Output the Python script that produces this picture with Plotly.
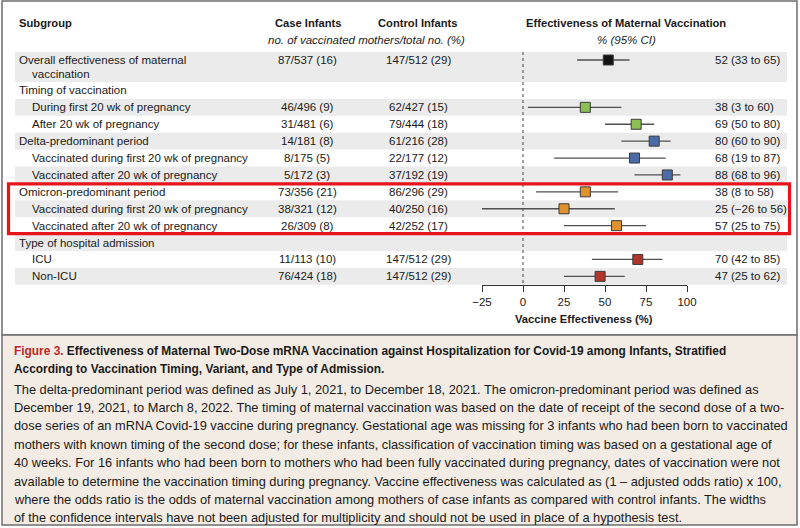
import plotly.graph_objects as go

W, H = 800, 528

# ---------------- data ----------------
subgroups = [
    "Overall effectiveness of maternal",
    "Timing of vaccination",
    "During first 20 wk of pregnancy",
    "After 20 wk of pregnancy",
    "Delta-predominant period",
    "Vaccinated during first 20 wk of pregnancy",
    "Vaccinated after 20 wk of pregnancy",
    "Omicron-predominant period",
    "Vaccinated during first 20 wk of pregnancy",
    "Vaccinated after 20 wk of pregnancy",
    "Type of hospital admission",
    "ICU",
    "Non-ICU",
]
indent = [0, 0, 1, 1, 0, 1, 1, 0, 1, 1, 0, 1, 1]
case_infants = ["87/537 (16)", "", "46/496 (9)", "31/481 (6)", "14/181 (8)", "8/175 (5)",
                "5/172 (3)", "73/356 (21)", "38/321 (12)", "26/309 (8)", "", "11/113 (10)",
                "76/424 (18)"]
control_infants = ["147/512 (29)", "", "62/427 (15)", "79/444 (18)", "61/216 (28)", "22/177 (12)",
                   "37/192 (19)", "86/296 (29)", "40/250 (16)", "42/252 (17)", "", "147/512 (29)",
                   "147/512 (29)"]
ve_text = ["52 (33 to 65)", "", "38 (3 to 60)", "69 (50 to 80)", "80 (60 to 90)", "68 (19 to 87)",
           "88 (68 to 96)", "38 (8 to 58)", "25 (\u221226 to 56)", "57 (25 to 75)", "", "70 (42 to 85)",
           "47 (25 to 62)"]
ve_est = [52, None, 38, 69, 80, 68, 88, 38, 25, 57, None, 70, 47]
ve_lo = [33, None, 3, 50, 60, 19, 68, 8, -26, 25, None, 42, 25]
ve_hi = [65, None, 60, 80, 90, 87, 96, 58, 56, 75, None, 85, 62]
groups = ["overall", None, "timing", "timing", "delta", "delta", "delta",
          "omicron", "omicron", "omicron", None, "admission", "admission"]
group_colors = {"overall": "#141414", "timing": "#8cbf55", "delta": "#4a6aa8",
                "omicron": "#e0922f", "admission": "#b0362b"}

tick_vals = [-25, 0, 25, 50, 75, 100]
tick_text = ["\u221225", "0", "25", "50", "75", "100"]

caption_title = ("<span style='color:#c0272d'>Figure 3.</span> Effectiveness of Maternal Two-Dose mRNA "
                 "Vaccination against Hospitalization for Covid-19 among Infants, Stratified")
caption_title2 = "According to Vaccination Timing, Variant, and Type of Admission."
caption_lines = [
    "The delta-predominant period was defined as July 1, 2021, to December 18, 2021. The omicron-predominant period was defined as",
    "December 19, 2021, to March 8, 2022. The timing of maternal vaccination was based on the date of receipt of the second dose of a two-",
    "dose series of an mRNA Covid-19 vaccine during pregnancy. Gestational age was missing for 3 infants who had been born to vaccinated",
    "mothers with known timing of the second dose; for these infants, classification of vaccination timing was based on a gestational age of",
    "40 weeks. For 16 infants who had been born to mothers who had been fully vaccinated during pregnancy, dates of vaccination were not",
    "available to determine the vaccination timing during pregnancy. Vaccine effectiveness was calculated as (1 \u2013 adjusted odds ratio) x 100,",
    "where the odds ratio is the odds of maternal vaccination among mothers of case infants as compared with control infants. The widths",
    "of the confidence intervals have not been adjusted for multiplicity and should not be used in place of a hypothesis test.",
]

# ---------------- layout helpers ----------------
FONT = "Liberation Sans, Arial, sans-serif"
TXT = "#1a1a1a"
PITCH = 16.9
FIRST_TOP, FIRST_BOT = 52, 82
ROW_SIZE = 11.5
HDR_SIZE = 11.2
CAP_SIZE = 12.8
CAP_TITLE_SIZE = 11.9


def row_bounds(i):
    if i == 0:
        return FIRST_TOP, FIRST_BOT
    t = FIRST_BOT + (i - 1) * PITCH
    return t, t + PITCH


def row_center(i):
    if i == 0:
        return 60
    t, b = row_bounds(i)
    return (t + b) / 2


def px(x):
    return x / W


fig = go.Figure()
shapes = []
ann = []

# panels
shapes.append(dict(type="rect", xref="paper", yref="y", x0=px(2), x1=px(797), y0=1, y1=335,
                   fillcolor="white", line=dict(color="#6e6e6e", width=1.5), layer="below"))
shapes.append(dict(type="rect", xref="paper", yref="y", x0=px(2), x1=px(797), y0=335, y1=525,
                   fillcolor="#f2ece4", line=dict(color="#6e6e6e", width=1.5), layer="below"))

# stripes
for i in range(len(subgroups)):
    if i % 2 == 0:
        t, b = row_bounds(i)
        shapes.append(dict(type="rect", xref="paper", yref="y", x0=px(15), x1=px(787), y0=t, y1=b,
                           fillcolor="#ebebeb", line=dict(width=0), layer="below"))

# zero line
shapes.append(dict(type="line", xref="x", yref="y", x0=0, x1=0, y0=52, y1=285,
                   line=dict(color="#444444", width=1, dash="3px,3px"), layer="below"))

# highlight box (omicron rows)
t7, _ = row_bounds(7)
_, b9 = row_bounds(9)
shapes.append(dict(type="rect", xref="paper", yref="y", x0=px(8.5), x1=px(789.5), y0=t7 + 0.5, y1=b9 - 0.5,
                   fillcolor="rgba(0,0,0,0)", line=dict(color="#e8141b", width=3.2)))

# headers
hdr = dict(family=FONT, size=HDR_SIZE, color=TXT)
ann += [
    dict(text="<b>Subgroup</b>", x=px(17), y=23, xanchor="left", font=hdr),
    dict(text="<b>Case Infants</b>", x=px(308), y=23, xanchor="center", font=hdr),
    dict(text="<b>Control Infants</b>", x=px(418), y=23, xanchor="center", font=hdr),
    dict(text="<b>Effectiveness of Maternal Vaccination</b>", x=px(626), y=23, xanchor="center", font=hdr),
    dict(text="<i>no. of vaccinated mothers/total no. (%)</i>", x=px(366), y=40, xanchor="center",
         font=dict(family=FONT, size=ROW_SIZE, color=TXT)),
    dict(text="<i>% (95% CI)</i>", x=px(626), y=40, xanchor="center",
         font=dict(family=FONT, size=ROW_SIZE, color=TXT)),
]

rowfont = dict(family=FONT, size=ROW_SIZE, color=TXT)
for i, lab in enumerate(subgroups):
    yc = row_center(i)
    ann.append(dict(text=lab, x=px(30 if indent[i] else 17), y=yc, xanchor="left", font=rowfont))
    if i == 0:
        ann.append(dict(text="vaccination", x=px(30), y=74, xanchor="left", font=rowfont))
    if case_infants[i]:
        ann.append(dict(text=case_infants[i], x=px(307), y=yc, xanchor="center", font=rowfont))
    if control_infants[i]:
        ann.append(dict(text=control_infants[i], x=px(418), y=yc, xanchor="center", font=rowfont))
    if ve_text[i]:
        ann.append(dict(text=ve_text[i], x=px(713), y=yc, xanchor="left", font=rowfont))

# axis title
ann.append(dict(text="<b>Vaccine Effectiveness (%)</b>", x=px(584), y=319, xanchor="center",
                font=dict(family=FONT, size=HDR_SIZE, color=TXT)))

# caption
ann.append(dict(text="<b>" + caption_title + "</b>", x=px(12), y=351, xanchor="left", align="left",
                font=dict(family=FONT, size=CAP_TITLE_SIZE, color=TXT)))
ann.append(dict(text="<b>" + caption_title2 + "</b>", x=px(12), y=368.5, xanchor="left", align="left",
                font=dict(family=FONT, size=CAP_TITLE_SIZE, color=TXT)))
for k, line in enumerate(caption_lines):
    ann.append(dict(text=line, x=px(12), y=389 + k * 18.4, xanchor="left", align="left",
                    font=dict(family=FONT, size=CAP_SIZE, color=TXT)))

for a in ann:
    a.setdefault("xref", "paper")
    a.setdefault("yref", "y")
    a.setdefault("yanchor", "middle")
    a["showarrow"] = False

# forest markers
for g, col in group_colors.items():
    idx = [i for i in range(len(subgroups)) if groups[i] == g]
    fig.add_trace(go.Scatter(
        x=[ve_est[i] for i in idx],
        y=[row_center(i) for i in idx],
        mode="markers",
        marker=dict(symbol="square", size=10, color=col, line=dict(color="#3a3a3a", width=1)),
        error_x=dict(type="data", symmetric=False,
                     array=[ve_hi[i] - ve_est[i] for i in idx],
                     arrayminus=[ve_est[i] - ve_lo[i] for i in idx],
                     width=0, thickness=1.3, color="#505050"),
        showlegend=False, hoverinfo="skip", cliponaxis=False,
    ))

fig.update_layout(
    width=W, height=H, margin=dict(l=0, r=0, t=0, b=0, pad=0, autoexpand=False),
    paper_bgcolor="white", plot_bgcolor="rgba(0,0,0,0)",
    shapes=shapes, annotations=ann, showlegend=False,
    xaxis=dict(domain=[482 / W, 687 / W], range=[-25, 100], anchor="free", position=1 - 285 / H,
               automargin=False,
               showgrid=False, zeroline=False, showline=True, linecolor="#333333", linewidth=1,
               ticks="outside", ticklen=6, tickcolor="#333333", tickvals=tick_vals, ticktext=tick_text,
               tickfont=dict(family=FONT, size=11.5, color=TXT), fixedrange=True),
    yaxis=dict(domain=[0, 1], range=[H, 0], visible=False, automargin=False, fixedrange=True),
)

fig.write_html("out.html", config={"displayModeBar": False},
               post_script="document.body.style.margin='0';document.body.style.overflow='hidden';")
